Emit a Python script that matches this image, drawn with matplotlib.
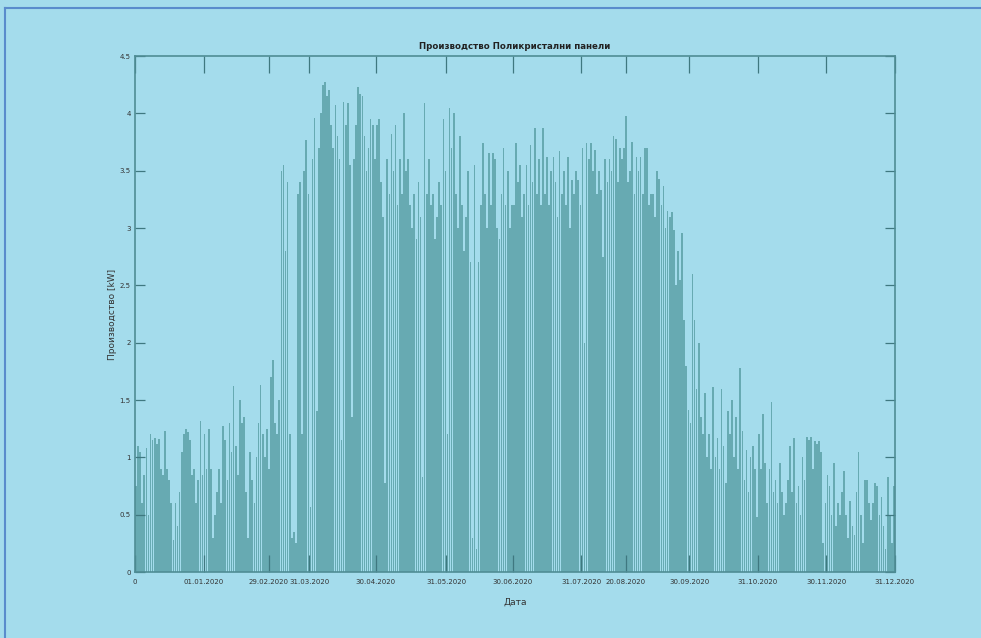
import numpy as np
import matplotlib
matplotlib.use("Agg")
import matplotlib.pyplot as plt
from matplotlib.lines import Line2D

# daily peak production [kW] (day 0 .. 365)
jan_feb = [0.75, 1.1, 1.05, 0.6, 0.85, 1.08, 0.5, 1.2, 1.15, 1.17,
           1.12, 1.16, 0.9, 0.85, 1.23, 0.9, 0.8, 0.6, 0.28, 0.6,
           0.4, 0.7, 1.05, 1.2, 1.25, 1.22, 1.15, 0.85, 0.9, 0.6,
           0.8, 1.32, 0.85, 1.2, 0.9, 1.25, 0.9, 0.3, 0.5, 0.7,
           0.9, 0.6, 1.27, 1.15, 0.8, 1.3, 1.05, 1.62, 1.1, 0.85,
           1.5, 1.3, 1.35, 0.7, 0.3, 1.05, 0.8, 0.6, 1.0, 1.3,
           1.63, 1.2, 1.0, 1.25, 0.9, 1.7, 1.85, 1.3, 1.2, 1.5]
mar_apr = [3.5, 3.55, 2.8, 3.4, 1.2, 0.3, 0.35, 0.25, 3.3, 3.4,
           1.2, 3.5, 3.77, 3.3, 0.57, 3.6, 3.96, 1.4, 3.7, 4.0,
           4.25, 4.27, 4.15, 4.2, 3.9, 3.7, 4.07, 3.8, 3.6, 1.15,
           4.1, 3.9, 4.09, 3.55, 1.35, 3.6, 3.9, 4.23, 4.17, 4.15,
           3.8, 3.5, 3.7, 3.95, 3.9, 3.6, 3.9, 3.95, 3.4, 3.1,
           0.78, 3.6, 3.3, 3.82, 3.5, 3.9, 3.2, 3.6, 3.3, 4.0]
may_jun = [3.5, 3.6, 3.2, 3.0, 3.3, 2.9, 3.4, 3.1, 0.83, 4.09,
           3.3, 3.6, 3.2, 3.3, 2.9, 3.1, 3.4, 3.2, 3.95, 3.5,
           1.2, 4.05, 3.7, 4.0, 3.3, 3.0, 3.8, 3.2, 2.8, 3.1,
           3.5, 2.7, 0.3, 3.55, 0.2, 2.7, 3.2, 3.74, 3.3, 3.0,
           3.65, 3.2, 3.65, 3.6, 3.0, 2.9, 3.3, 3.7, 3.2, 3.5,
           3.0, 3.2, 3.2, 3.74, 3.4, 3.55, 3.1, 3.3, 3.55, 3.2]
jul_aug = [3.72, 3.4, 3.87, 3.3, 3.6, 3.2, 3.87, 3.3, 3.62, 3.2,
           3.5, 3.62, 3.4, 3.1, 3.67, 3.3, 3.5, 3.2, 3.62, 3.0,
           3.42, 3.3, 3.5, 3.42, 3.2, 3.7, 2.0, 3.74, 3.6, 3.74,
           3.5, 3.68, 3.3, 3.5, 3.33, 2.75, 3.6, 3.4, 3.6, 3.5,
           3.8, 3.78, 3.4, 3.7, 3.6, 3.7, 3.98, 3.4, 3.5, 3.75,
           3.3, 3.62, 3.5, 3.62, 3.3, 3.7, 3.7, 3.2, 3.3, 3.3]
sep_oct = [3.1, 3.5, 3.43, 3.2, 3.37, 3.0, 3.15, 3.1, 3.14, 2.98,
           2.5, 2.8, 2.55, 2.96, 2.2, 1.8, 1.41, 1.3, 2.6, 2.2,
           1.6, 2.0, 1.35, 1.2, 1.56, 1.0, 1.2, 0.9, 1.61, 1.0,
           1.17, 0.9, 1.6, 1.1, 0.78, 1.4, 1.2, 1.5, 1.0, 1.35,
           0.9, 1.78, 1.23, 0.8, 1.06, 0.7, 1.0, 1.1, 0.9, 0.48,
           1.2, 0.9, 1.38, 0.95, 0.6, 0.9, 1.48, 0.7, 0.8, 0.6]
nov_dec = [0.95, 0.7, 0.5, 0.6, 0.8, 1.1, 0.7, 1.17, 0.6, 0.75,
           0.5, 1.0, 0.8, 1.18, 1.15, 1.18, 0.9, 1.14, 1.12, 1.14,
           1.05, 0.25, 0.6, 0.85, 0.75, 0.5, 0.95, 0.4, 0.6, 0.5,
           0.7, 0.88, 0.5, 0.3, 0.62, 0.4, 0.32, 0.7, 1.05, 0.5,
           0.25, 0.8, 0.8, 0.6, 0.45, 0.6, 0.78, 0.75, 0.5, 0.65,
           0.4, 0.2, 0.83, 0.5, 0.25, 0.75]

peaks = jan_feb + mar_apr + may_jun + jul_aug + sep_oct + nov_dec

tick_days = [0, 33, 64.5, 84, 116, 150, 182, 215, 236.5, 267, 300, 333, 366]
tick_labels = ['0', '01.01.2020', '29.02.2020', '31.03.2020', '30.04.2020',
               '31.05.2020', '30.06.2020', '31.07.2020', '20.08.2020',
               '30.09.2020', '31.10.2020', '30.11.2020', '31.12.2020']
y_ticks = [0, 0.5, 1, 1.5, 2, 2.5, 3, 3.5, 4, 4.5]
y_labels = ['0', '0.5', '1', '1.5', '2', '2.5', '3', '3.5', '4', '4.5']

bg = '#a4dcec'
teal = '#67aab2'
edge = '#4f8d95'
tick_dark = '#3f7880'

plt.rcParams['font.family'] = ['DejaVu Sans']

fig = plt.figure(figsize=(9.81, 6.38), dpi=100, facecolor=bg)
ax = fig.add_axes([0.1376, 0.1034, 0.7747, 0.8088], facecolor=bg)

days = np.arange(len(peaks)) + 0.5
ax.bar(days, peaks, width=0.8, color=teal, linewidth=0)

ax.set_xlim(0, 366)
ax.set_ylim(0, 4.5)
ax.set_xticks(tick_days)
ax.set_xticklabels(tick_labels)
ax.set_yticks(y_ticks)
ax.set_yticklabels(y_labels)

ax.tick_params(direction='in', width=0.9, color=tick_dark,
               labelsize=5, labelcolor='#333333', top=True, right=True)
ax.tick_params(axis='x', length=12, pad=5)
ax.tick_params(axis='y', length=7, pad=3)
for s in ax.spines.values():
    s.set_color(edge)
    s.set_linewidth(1.2)

ax.set_title('Производство Поликристални панели', fontsize=6.2,
             fontweight='bold', color='#222222', pad=5)
ax.set_xlabel('Дата', fontsize=6.5, color='#333333', labelpad=9)
ax.set_ylabel('Производство [kW]', fontsize=6.5, color='#333333', labelpad=2)

# blue frame of the screenshot (top and left edges)
fig.add_artist(Line2D([5 / 981, 1], [1 - 8 / 638, 1 - 8 / 638],
                      transform=fig.transFigure, color='#5a8ccc', lw=1.5))
fig.add_artist(Line2D([5 / 981, 5 / 981], [0, 1 - 8 / 638],
                      transform=fig.transFigure, color='#5a8ccc', lw=1.5))

fig.savefig('out.png', dpi=100, facecolor=bg)
